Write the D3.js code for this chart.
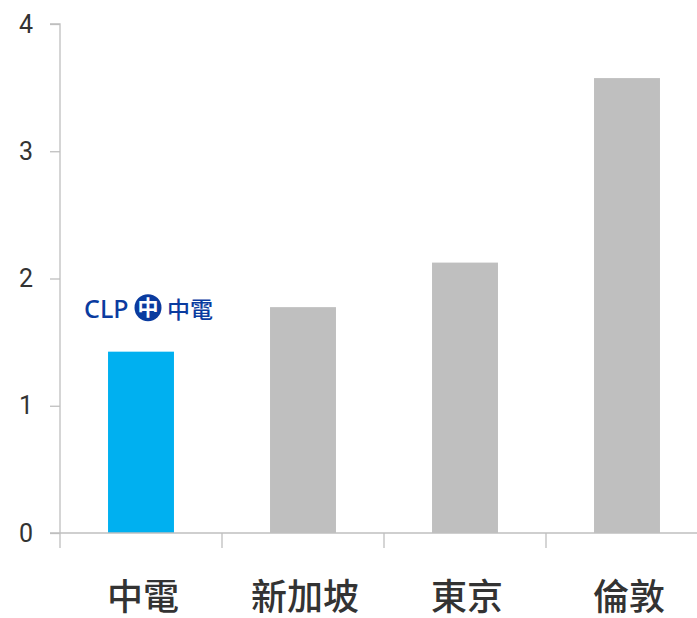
<!DOCTYPE html>
<html>
<head>
<meta charset="utf-8">
<script src="https://cdn.jsdelivr.net/npm/d3@7"></script>
<style>
  html, body { margin: 0; padding: 0; background: #fff; }
  svg { display: block; }
</style>
</head>
<body>
<div id="chart"></div>
<script>
const categories = ["中電", "新加坡", "東京", "倫敦"];
const values = [1.425, 1.775, 2.125, 3.575];
const barColors = ["#00b0f0", "#bfbfbf", "#bfbfbf", "#bfbfbf"];
const yTicks = [0, 1, 2, 3, 4];
const logoText = ["CLP", "中", "中電"];

const W = 697, H = 618;
const svg = d3.select("#chart").append("svg").attr("width", W).attr("height", H);

const y = d3.scaleLinear().domain([0, 4]).range([533, 24]);
const x = d3.scaleBand().domain(categories).range([60, 708])
  .paddingInner(0.593).paddingOuter(0.2965);
const step = x.step();
const bandStart = d => x(d) - step * x.paddingInner() / 2;

const axisColor = "#bfbfbf";

// bars
svg.selectAll("rect.bar").data(categories).join("rect")
  .attr("class", "bar")
  .attr("x", d => x(d))
  .attr("width", x.bandwidth())
  .attr("y", (d, i) => y(values[i]))
  .attr("height", (d, i) => y(0) - y(values[i]))
  .attr("fill", (d, i) => barColors[i]);

// y axis
const yAxis = svg.append("g").attr("transform", "translate(60,0)")
  .call(d3.axisLeft(y).tickValues(yTicks).tickFormat(d3.format("d")).tickSize(10).tickPadding(17));
yAxis.select(".domain").attr("stroke", axisColor).attr("stroke-width", 1.3).attr("d", `M-10,${y(4)}H0V${y(0)}`);
yAxis.selectAll(".tick line").attr("stroke", axisColor).attr("stroke-width", 1.3);
yAxis.selectAll(".tick text")
  .attr("fill", "#333")
  .style("font-family", "'Liberation Sans Narrow', 'Roboto', sans-serif")
  .style("font-size", "25px");

// x axis
svg.append("line").attr("x1", 50).attr("x2", W).attr("y1", y(0)).attr("y2", y(0))
  .attr("stroke", axisColor).attr("stroke-width", 1.3);
svg.selectAll("line.xtick").data(categories).join("line")
  .attr("class", "xtick")
  .attr("x1", d => bandStart(d)).attr("x2", d => bandStart(d))
  .attr("y1", y(0)).attr("y2", y(0) + 15)
  .attr("stroke", axisColor).attr("stroke-width", 1.3);
svg.selectAll("text.xlabel").data(categories).join("text")
  .attr("class", "xlabel")
  .attr("x", d => x(d) + x.bandwidth() / 2 + 2)
  .attr("y", 610)
  .attr("text-anchor", "middle")
  .attr("fill", "#333")
  .style("font-family", "'Noto Sans CJK TC', sans-serif")
  .style("font-weight", 500)
  .style("font-size", "36px")
  .text(d => d);

// CLP logo above first bar
const logoBlue = "#0a3b9f";
const lx = x(categories[0]) + x.bandwidth() / 2;
const ly = y(values[0]) - 48;
const logo = svg.append("g").attr("transform", `translate(${lx},${ly})`);
logo.append("text").attr("x", -57).attr("y", 14.5)
  .attr("fill", logoBlue)
  .style("font-family", "'Noto Sans', sans-serif")
  .style("font-weight", 500)
  .style("font-size", "25px")
  .text(logoText[0]);
logo.append("circle").attr("cx", 7).attr("cy", 4).attr("r", 13.5).attr("fill", logoBlue);
logo.append("text").attr("x", 7).attr("y", 11.5).attr("text-anchor", "middle")
  .attr("fill", "#fff")
  .style("font-family", "'Noto Sans CJK TC', sans-serif")
  .style("font-weight", 700)
  .style("font-size", "21px")
  .text(logoText[1]);
logo.append("text").attr("x", 26).attr("y", 14)
  .attr("fill", logoBlue)
  .style("font-family", "'Noto Sans CJK TC', sans-serif")
  .style("font-weight", 500)
  .style("font-size", "23px")
  .text(logoText[2]);
</script>
</body>
</html>
